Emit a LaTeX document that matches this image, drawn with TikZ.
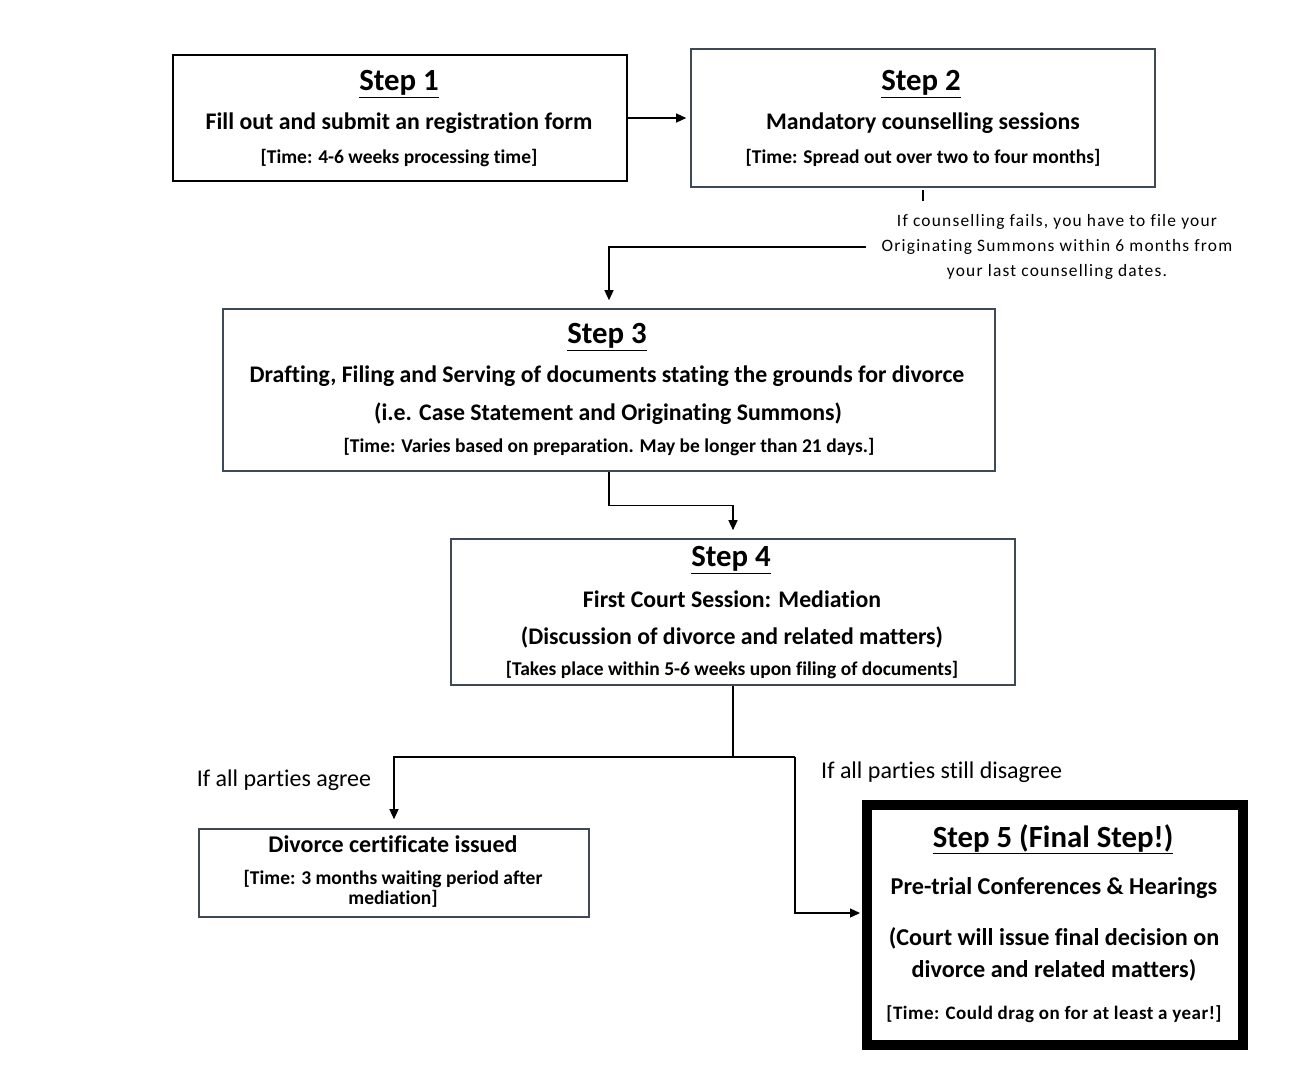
\documentclass[tikz,border=0pt]{standalone}
\usepackage{fontspec}
\setmainfont{Carlito}[Ligatures=NoCommon]
\usetikzlibrary{arrows.meta}
\definecolor{boxline}{HTML}{3E4A56}
\begin{document}
\begin{tikzpicture}[x=1pt,y=-1pt,
 box/.style={draw=boxline, line width=1.6pt, inner sep=0pt, fill=white},
 head/.style={font=\fontsize{30.8}{32}\selectfont\bfseries},
 body/.style={font=\fontsize{23.8}{26}\selectfont\bfseries},
 small/.style={font=\fontsize{19.5}{21}\selectfont\bfseries},
 note/.style={font=\fontsize{24}{26}\selectfont},
 conn/.style={line width=1.3pt, -{Triangle[length=10pt,width=9pt]}},
 plain/.style={line width=1.3pt},
]
\useasboundingbox (0,0) rectangle (1302,1074);

% boxes
\node[box, draw=black, minimum width=454pt, minimum height=126pt] (s1) at (400,118) {};
\node[box, minimum width=464pt, minimum height=138pt] (s2) at (923,118) {};
\node[box, minimum width=772pt, minimum height=162pt] (s3) at (609,390) {};
\node[box, minimum width=564pt, minimum height=146pt] (s4) at (733,612) {};
\node[box, minimum width=390pt, minimum height=88pt] (cert) at (394,873) {};
\node[draw=black, line width=10pt, inner sep=0pt, minimum width=376pt, minimum height=240pt] (s5) at (1055,925) {};

% step 1 text
\node[head] (s1a) at (399,84) {\underline{Step 1}};
\node[body] (s1b) at (399,123) {Fill out and\ submit an\ registration\ form};
\node[small] (s1c) at (399,158) {[Time: 4-6 weeks processing\ time]};

% step 2 text
\node[head] (s2a) at (921,84) {\underline{Step 2}};
\node[body] (s2b) at (923,123) {Mandatory\ counselling\ sessions};
\node[small] (s2c) at (923,158) {[Time: Spread out\ over two to four months]};

% step 3 text
\node[head] (s3a) at (607,337) {\underline{Step 3}};
\node[body] (s3b) at (607,376) {Drafting, Filing and Serving of documents\ stating the grounds\ for divorce};
\node[body] (s3c) at (608,414) {(i.e. Case Statement and Originating\ Summons)};
\node[small] (s3d) at (609,447) {[Time: Varies based on preparation. May be longer\ than 21 days.]};

% step 4 text
\node[head] (s4a) at (731,560) {\underline{Step 4}};
\node[body] (s4b) at (732,599) {First Court Session: Mediation};
\node[body] (s4c) at (732,637) {(Discussion of divorce\ and related\ matters)};
\node[small] (s4d) at (732,670) {[Takes place within\ 5-6 weeks upon filing\ of documents]};

% certificate text
\node[font=\fontsize{24}{26}\selectfont\bfseries] (ca) at (393,844) {Divorce certificate issued};
\node[align=center, font=\fontsize{19.5}{20}\selectfont\bfseries] (cb) at (393,889) {[Time: 3 months waiting\ period after\\mediation]};

% step 5 text
\node[head] (s5a) at (1053,839) {\underline{Step 5 (Final Step!)}};
\node[font=\fontsize{24.2}{26}\selectfont\bfseries] (s5b) at (1054,888) {Pre-trial Conferences \& Hearings};
\node[font=\fontsize{24.2}{26}\selectfont\bfseries] (s5c) at (1054,938) {(Court will issue final decision on};
\node[font=\fontsize{24.2}{26}\selectfont\bfseries] (s5d) at (1054,970) {divorce and related matters)};
\node[font=\fontsize{19}{20}\selectfont\bfseries\addfontfeatures{LetterSpace=2.5}] (s5e) at (1054,1014) {[Time: Could drag on for at least a year!]};

% notes
\node[font=\fontsize{17.4}{25}\selectfont\addfontfeatures{LetterSpace=7}, align=center, inner sep=2pt] (cnote) at (1057,247) {If counselling fails, you have to file your\\Originating Summons within 6 months from\\your last counselling dates.};
\node[note] (agree) at (284,780) {If all parties agree};
\node[note, anchor=west, inner sep=0pt] (disagree) at (821,772) {If all parties still disagree};

% connector coordinates
\coordinate (tickA) at (923,190);
\coordinate (tickB) at (923,201);
\coordinate (nl) at (866,247);
\coordinate (j) at (733,757);
\coordinate (k) at (795,757);
\coordinate (s5in) at (862,913);

% connectors
\draw[conn, shorten >=4pt] (s1.east) -- (s2.west);
\draw[plain] (tickA) -- (tickB);
\draw[conn, shorten >=8pt] (nl) -| (s3.north);
\draw[conn, shorten >=8pt] (s3.south) -- ++(0,34) -| (s4.north);
\draw[plain] (s4.south) -- (j);
\draw[conn, shorten >=9pt] (j) -| (cert.north);
\draw[plain] (j) -- (k);
\draw[conn, shorten >=2pt] (k) |- (s5in);
\end{tikzpicture}
\end{document}
